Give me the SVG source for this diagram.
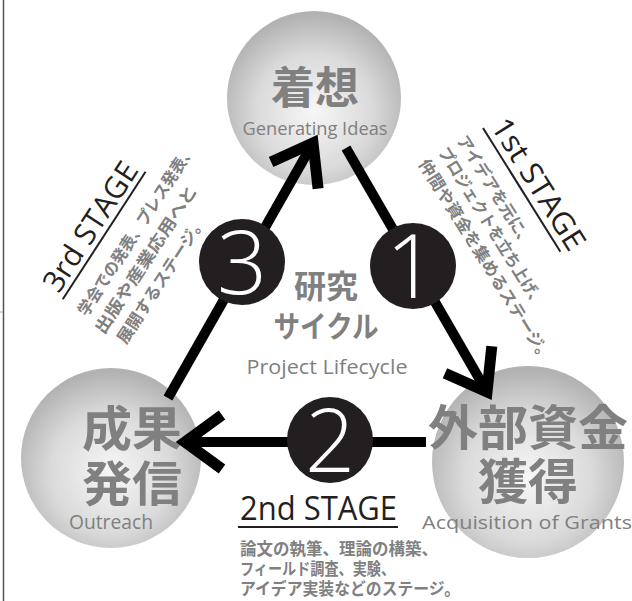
<svg xmlns="http://www.w3.org/2000/svg" width="632" height="601" viewBox="0 0 632 601">
<defs>
<radialGradient id="g" cx="0.5" cy="0.58" r="0.56">
<stop offset="0" stop-color="#f7f7f7"/>
<stop offset="0.6" stop-color="#dadada"/>
<stop offset="1" stop-color="#b2b2b2"/>
</radialGradient>
<style>
.jp{font-family:"Noto Sans CJK JP",sans-serif;font-weight:700;fill:#808080}
.en{font-family:"Open Sans","Noto Sans",sans-serif;fill:#808080}
.num{font-family:"Open Sans","Lato",sans-serif;font-weight:300;fill:#fff;text-anchor:middle;font-size:88px}
.hd{font-family:"Open Sans","Noto Sans",sans-serif;fill:#231f20}
.desc{font-family:"Noto Sans CJK JP",sans-serif;font-weight:700;fill:#808080;font-size:16.5px}
.ln{stroke:#000;stroke-width:10;fill:none}
.head{stroke:#000;stroke-width:11;fill:none;stroke-linejoin:miter;stroke-miterlimit:10}
.badge{fill:#231f20}
.ul{stroke:#231f20;stroke-width:2}
</style>
</defs>
<rect width="632" height="601" fill="#fff"/>
<line x1="3.5" y1="0" x2="3.5" y2="601" stroke="#555" stroke-width="1.5"/>
<line x1="0" y1="312" x2="3" y2="312" stroke="#aaa"/>

<g id="idea">
<circle cx="314" cy="98" r="87" fill="url(#g)"/>
<text class="jp" x="315" y="104" font-size="44" text-anchor="middle">着想</text>
<text class="en" x="315" y="135" font-size="18" text-anchor="middle" textLength="145" lengthAdjust="spacingAndGlyphs">Generating Ideas</text>
</g>

<g id="outreach">
<circle cx="111" cy="458" r="90" fill="url(#g)"/>
<text class="jp" x="132" y="446" font-size="48" text-anchor="middle" textLength="100" lengthAdjust="spacingAndGlyphs">成果</text>
<text class="jp" x="132" y="501" font-size="48" text-anchor="middle" textLength="100" lengthAdjust="spacingAndGlyphs">発信</text>
<text class="en" x="111" y="529" font-size="20" text-anchor="middle" textLength="84" lengthAdjust="spacingAndGlyphs">Outreach</text>
</g>

<g id="grants">
<circle cx="528" cy="462" r="96" fill="url(#g)"/>
<text class="jp" x="528" y="445" font-size="48" text-anchor="middle" textLength="200" lengthAdjust="spacingAndGlyphs">外部資金</text>
<text class="jp" x="528" y="499" font-size="48" text-anchor="middle" textLength="100" lengthAdjust="spacingAndGlyphs">獲得</text>
<text class="en" x="527" y="529" font-size="19" text-anchor="middle" textLength="210" lengthAdjust="spacingAndGlyphs">Acquisition of Grants</text>
</g>

<g id="cycle">
<text class="jp" x="326" y="298" font-size="32" text-anchor="middle">研究</text>
<text class="jp" x="326" y="337" font-size="30" text-anchor="middle" textLength="105" lengthAdjust="spacingAndGlyphs">サイクル</text>
<text class="en" x="327" y="374" font-size="20" text-anchor="middle" textLength="161" lengthAdjust="spacingAndGlyphs">Project Lifecycle</text>
</g>

<g id="connectors">
<line class="ln" x1="346" y1="148" x2="485" y2="388.5"/>
<polyline class="head" points="445,373.3 487,392 491.8,346.3"/>
<line class="ln" x1="426" y1="442" x2="190" y2="442"/>
<polyline class="head" points="222,415 185,442 222,469"/>
<line class="ln" x1="168" y1="398" x2="311" y2="146.5"/>
<polyline class="head" points="271.1,162 313,143 318.1,188.7"/>
</g>

<g id="badge1">
<circle class="badge" cx="413" cy="266" r="43"/>
<text class="num" x="411" y="298">1</text>
</g>
<g id="badge2">
<circle class="badge" cx="330" cy="440" r="43"/>
<text class="num" x="330" y="472">2</text>
</g>
<g id="badge3">
<circle class="badge" cx="242" cy="262" r="43"/>
<text class="num" x="242" y="294">3</text>
</g>

<g id="stage1" transform="translate(483,128) rotate(58)">
<text class="hd" x="2" y="-7" font-size="30" textLength="150" lengthAdjust="spacingAndGlyphs">1st STAGE</text>
<line class="ul" x1="0" y1="0" x2="146" y2="0"/>
<text class="desc" x="-4" y="29" textLength="128" lengthAdjust="spacingAndGlyphs">アイデアを元に、</text>
<text class="desc" x="-4" y="51" textLength="185" lengthAdjust="spacingAndGlyphs">プロジェクトを立ち上げ、</text>
<text class="desc" x="-4" y="74" textLength="236" lengthAdjust="spacingAndGlyphs">仲間や資金を集めるステージ。</text>
</g>

<g id="stage2">
<text class="hd" x="240" y="520" font-size="32" textLength="157" lengthAdjust="spacingAndGlyphs">2nd STAGE</text>
<line class="ul" x1="238" y1="527" x2="398" y2="527"/>
<text class="desc" x="240" y="555" textLength="198" lengthAdjust="spacingAndGlyphs">論文の執筆、理論の構築、</text>
<text class="desc" x="240" y="575" textLength="155" lengthAdjust="spacingAndGlyphs">フィールド調査、実験、</text>
<text class="desc" x="240" y="595" textLength="220" lengthAdjust="spacingAndGlyphs">アイデア実装などのステージ。</text>
</g>

<g id="stage3" transform="translate(63,297) rotate(-57)">
<text class="hd" x="0" y="-5" font-size="30" textLength="148" lengthAdjust="spacingAndGlyphs">3rd STAGE</text>
<line class="ul" x1="-2" y1="1" x2="150" y2="1"/>
<text class="desc" x="-4" y="31" textLength="200" lengthAdjust="spacingAndGlyphs">学会での発表、プレス発表、</text>
<text class="desc" x="-10" y="55" textLength="173" lengthAdjust="spacingAndGlyphs">出版や産業応用へと</text>
<text class="desc" x="-6" y="79" textLength="148" lengthAdjust="spacingAndGlyphs">展開するステージ。</text>
</g>
</svg>
